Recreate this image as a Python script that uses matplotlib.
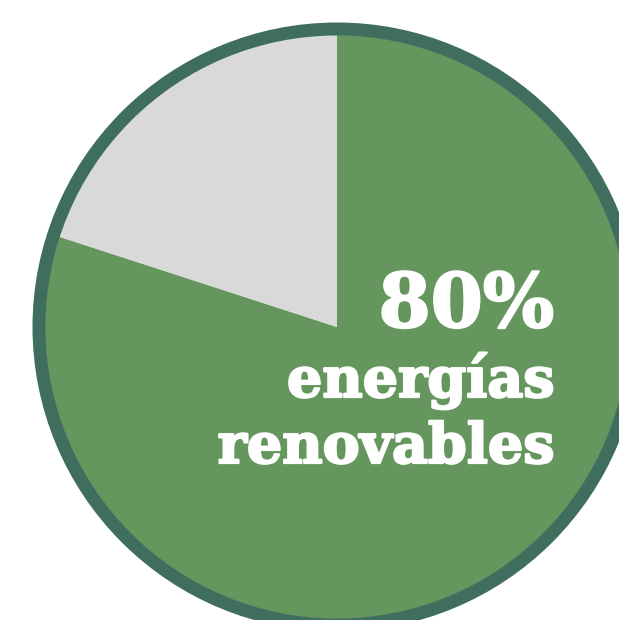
import matplotlib
matplotlib.use('Agg')
import matplotlib.pyplot as plt
import matplotlib.patheffects as pe
from matplotlib.patches import Circle

# datos
etiquetas = ['energías renovables', 'otras']
valores = [80, 20]
colores = ['#64965d', '#d9d9d9']
texto_pct = '80%'
texto_linea1 = 'energías'
texto_linea2 = 'renovables'

fig = plt.figure(figsize=(6.19, 6.20), dpi=100)
ax = fig.add_axes([0, 0, 1, 1])

# coordenadas en pixeles (y hacia arriba)
cx, cy = 337, 620 - 327
ax.pie(valores, colors=colores, startangle=90, counterclock=False,
       center=(cx, cy), radius=292, wedgeprops={'linewidth': 0})
ax.add_patch(Circle((cx, cy), 298, fill=False, edgecolor='#3f6e5e', linewidth=13 * 0.72))

ax.set_xlim(0, 619)
ax.set_ylim(0, 620)
ax.set_aspect('equal')
ax.axis('off')

grueso = [pe.withStroke(linewidth=1.6, foreground='white')]
fuente = {'family': 'DejaVu Serif', 'weight': 'bold', 'color': 'white', 'path_effects': grueso}
ax.text(554, 620 - 327, texto_pct, ha='right', va='baseline', fontsize=54, **fuente)
ax.text(554, 620 - 397, texto_linea1, ha='right', va='baseline', fontsize=40, **fuente)
ax.text(554, 620 - 463, texto_linea2, ha='right', va='baseline', fontsize=40, **fuente)

plt.savefig('out.png', dpi=100)
